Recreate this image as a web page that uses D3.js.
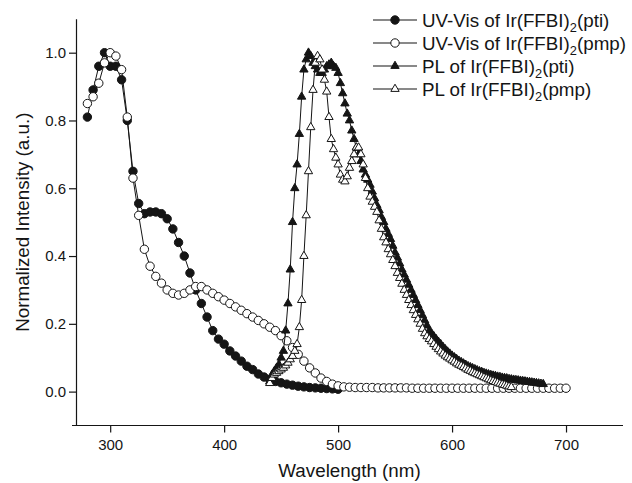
<!DOCTYPE html>
<html>
<head>
<meta charset="utf-8">
<script src="https://cdn.jsdelivr.net/npm/d3@7"></script>
<style>
  html, body { margin: 0; padding: 0; background: #fff; }
  svg { display: block; font-family: "Liberation Sans", Arial, sans-serif; }
</style>
</head>
<body>
<svg id="chart" width="632" height="483"></svg>
<script>
// Absorption spectra (5 nm steps)
const uvPtiStart = 280, uvPtiStep = 5;
const uvPti = [0.81, 0.89, 0.96, 1.00, 0.96, 0.96, 0.92, 0.80, 0.65, 0.555,
  0.525, 0.53, 0.53, 0.525, 0.51, 0.48, 0.44, 0.40, 0.35, 0.30,
  0.26, 0.22, 0.18, 0.155, 0.14, 0.12, 0.105, 0.09, 0.075, 0.065,
  0.052, 0.043, 0.036, 0.03, 0.026, 0.022, 0.019, 0.016, 0.014, 0.012,
  0.011, 0.01, 0.009, 0.008, 0.007];

const uvPmpStart = 280, uvPmpStep = 5;
const uvPmp = [0.85, 0.87, 0.91, 0.97, 1.00, 0.99, 0.95, 0.81, 0.63, 0.52,
  0.42, 0.37, 0.34, 0.32, 0.30, 0.29, 0.285, 0.29, 0.30, 0.31,
  0.31, 0.30, 0.29, 0.28, 0.27, 0.26, 0.25, 0.24, 0.23, 0.22,
  0.21, 0.20, 0.19, 0.18, 0.165, 0.15, 0.13, 0.11, 0.09, 0.07,
  0.055, 0.04, 0.03, 0.022, 0.017, 0.014, 0.013, 0.012, 0.012, 0.012,
  0.012, 0.011, 0.011, 0.011, 0.011, 0.011, 0.011, 0.010, 0.010, 0.010,
  0.010, 0.010, 0.010, 0.010, 0.010, 0.010, 0.010, 0.010, 0.010, 0.010,
  0.010, 0.010, 0.010, 0.010, 0.010, 0.010, 0.010, 0.010, 0.010, 0.010,
  0.010, 0.010, 0.010, 0.010, 0.010];

// Emission spectra (2 nm steps)
const plPtiStart = 440, plPtiStep = 2;
const plPti = [0.03, 0.05, 0.06, 0.07, 0.08, 0.10, 0.12, 0.18, 0.26, 0.36,
  0.50, 0.60, 0.67, 0.76, 0.87, 0.95, 0.98, 1.00, 0.99, 0.97,
  0.96, 0.95, 0.94, 0.94, 0.95, 0.96, 0.965, 0.97, 0.96, 0.955,
  0.94, 0.91, 0.88, 0.85, 0.82, 0.80, 0.77, 0.745, 0.72, 0.70,
  0.68, 0.655, 0.64, 0.625, 0.61, 0.59, 0.57, 0.55, 0.535, 0.515,
  0.50, 0.48, 0.465, 0.45, 0.43, 0.41, 0.395, 0.378, 0.36, 0.345,
  0.33, 0.315, 0.30, 0.285, 0.27, 0.255, 0.24, 0.225, 0.21, 0.195,
  0.18, 0.172, 0.163, 0.155, 0.147, 0.14, 0.132, 0.125, 0.118, 0.112,
  0.106, 0.101, 0.096, 0.091, 0.087, 0.083, 0.079, 0.075, 0.072, 0.069,
  0.066, 0.063, 0.06, 0.058, 0.055, 0.053, 0.051, 0.049, 0.047, 0.046,
  0.044, 0.043, 0.041, 0.04, 0.039, 0.037, 0.036, 0.035, 0.034, 0.033,
  0.032, 0.031, 0.03, 0.029, 0.028, 0.027, 0.026, 0.025, 0.024, 0.023,
  0.022];

const plPmpStart = 440, plPmpStep = 2;
const plPmp = [0.025, 0.04, 0.05, 0.055, 0.06, 0.065, 0.07, 0.077, 0.085, 0.095,
  0.105, 0.12, 0.14, 0.19, 0.27, 0.40, 0.52, 0.65, 0.78, 0.89,
  0.97, 0.99, 0.98, 0.95, 0.92, 0.885, 0.81, 0.745, 0.715, 0.69,
  0.67, 0.64, 0.625, 0.62, 0.635, 0.66, 0.68, 0.70, 0.72, 0.72,
  0.70, 0.67, 0.63, 0.60, 0.575, 0.56, 0.545, 0.53, 0.505, 0.48,
  0.455, 0.44, 0.42, 0.405, 0.388, 0.37, 0.35, 0.335, 0.318, 0.30,
  0.285, 0.27, 0.255, 0.24, 0.226, 0.213, 0.20, 0.185, 0.172, 0.163,
  0.155, 0.148, 0.14, 0.132, 0.125, 0.118, 0.112, 0.106, 0.101, 0.097,
  0.092, 0.088, 0.083, 0.079, 0.076, 0.072, 0.068, 0.064, 0.061, 0.057,
  0.054, 0.051, 0.048, 0.045, 0.042, 0.039, 0.036, 0.033, 0.031, 0.028,
  0.026, 0.023, 0.021, 0.019, 0.017, 0.015, 0.013];

const xTicks = [300, 400, 500, 600, 700];
const yTicks = [0.0, 0.2, 0.4, 0.6, 0.8, 1.0];

const toPoints = (start, step, vals) => vals.map((v, i) => ({ x: start + i * step, y: v }));

const series = [
  { name: "UV-Vis of Ir(FFBI)", tail: "(pti)", shape: "circle", filled: true, pts: toPoints(uvPtiStart, uvPtiStep, uvPti) },
  { name: "UV-Vis of Ir(FFBI)", tail: "(pmp)", shape: "circle", filled: false, pts: toPoints(uvPmpStart, uvPmpStep, uvPmp) },
  { name: "PL of Ir(FFBI)", tail: "(pti)", shape: "triangle", filled: true, pts: toPoints(plPtiStart, plPtiStep, plPti) },
  { name: "PL of Ir(FFBI)", tail: "(pmp)", shape: "triangle", filled: false, pts: toPoints(plPmpStart, plPmpStep, plPmp) }
];

const svg = d3.select("#chart");
const ink = "#151515";

const x = d3.scaleLinear().domain([270, 750]).range([76, 623]);
const y = d3.scaleLinear().domain([-0.1, 1.1]).range([425.5, 18.8]);

// Axes: major ticks with labels, minor ticks without
const xMajor = d3.axisBottom(x).tickValues(xTicks).tickSize(7).tickSizeOuter(0).tickPadding(7).tickFormat(d3.format("d"));
const xMinor = d3.axisBottom(x).tickValues([350, 450, 550, 650, 750]).tickSize(4).tickSizeOuter(0).tickFormat("");
const yMajor = d3.axisLeft(y).tickValues(yTicks).tickSize(7).tickSizeOuter(0).tickPadding(3).tickFormat(d3.format(".1f"));
const yMinor = d3.axisLeft(y).tickValues([-0.1, 0.1, 0.3, 0.5, 0.7, 0.9, 1.1]).tickSize(4).tickSizeOuter(0).tickFormat("");

function styleAxis(g) {
  g.selectAll("path").attr("stroke", ink).attr("stroke-width", 1.2);
  g.selectAll("line").attr("stroke", ink).attr("stroke-width", 1.2);
  g.selectAll("text").attr("fill", ink).attr("font-size", 15).attr("font-family", "Liberation Sans, Arial, sans-serif");
}

const gx = svg.append("g").attr("transform", `translate(0,${y(-0.1)})`);
gx.call(xMinor); gx.call(xMajor); styleAxis(gx);
gx.select(".domain").attr("d", `M72,0H${x(750)}`);
const gy = svg.append("g").attr("transform", `translate(${x(270)},0)`);
gy.call(yMinor); gy.call(yMajor); styleAxis(gy);

// Axis titles
svg.append("text").attr("x", (x(270) + x(750)) / 2).attr("y", 477)
  .attr("text-anchor", "middle").attr("font-size", 18.8).attr("fill", ink)
  .text("Wavelength (nm)");
svg.append("text").attr("transform", `translate(29,${(y(-0.1) + y(1.1)) / 2}) rotate(-90)`)
  .attr("text-anchor", "middle").attr("font-size", 18.8).attr("fill", ink)
  .text("Normalized Intensity (a.u.)");

const line = d3.line().x(d => x(d.x)).y(d => y(d.y));
const circleSym = d3.symbol().type(d3.symbolCircle).size(Math.PI * 4.2 * 4.2);
const triSym = d3.symbol().type(d3.symbolTriangle).size(30);

function drawMarker(g, s, cx, cy) {
  g.append("path")
    .attr("d", s.shape === "circle" ? circleSym() : triSym())
    .attr("transform", `translate(${cx},${cy})`)
    .attr("fill", s.filled ? ink : "#fff")
    .attr("stroke", ink)
    .attr("stroke-width", 1);
}

series.forEach(s => {
  const g = svg.append("g");
  g.append("path").datum(s.pts).attr("d", line)
    .attr("fill", "none").attr("stroke", ink).attr("stroke-width", 1);
  s.pts.forEach(p => drawMarker(g, s, x(p.x), y(p.y)));
});

// Legend
const legend = svg.append("g");
const rowY = [20, 43, 66, 89];
series.forEach((s, i) => {
  const g = legend.append("g").attr("transform", `translate(0,${rowY[i]})`);
  g.append("line").attr("x1", 373).attr("x2", 417).attr("y1", 0).attr("y2", 0)
    .attr("stroke", ink).attr("stroke-width", 1.2);
  drawMarker(g, s, 395, 0);
  const t = g.append("text").attr("x", 422).attr("y", 7).attr("font-size", 18.8).attr("fill", ink);
  t.append("tspan").text(s.name);
  t.append("tspan").attr("font-size", 12.8).attr("dy", 5).text("2");
  t.append("tspan").attr("dy", -5).text(s.tail);
});
</script>
</body>
</html>
